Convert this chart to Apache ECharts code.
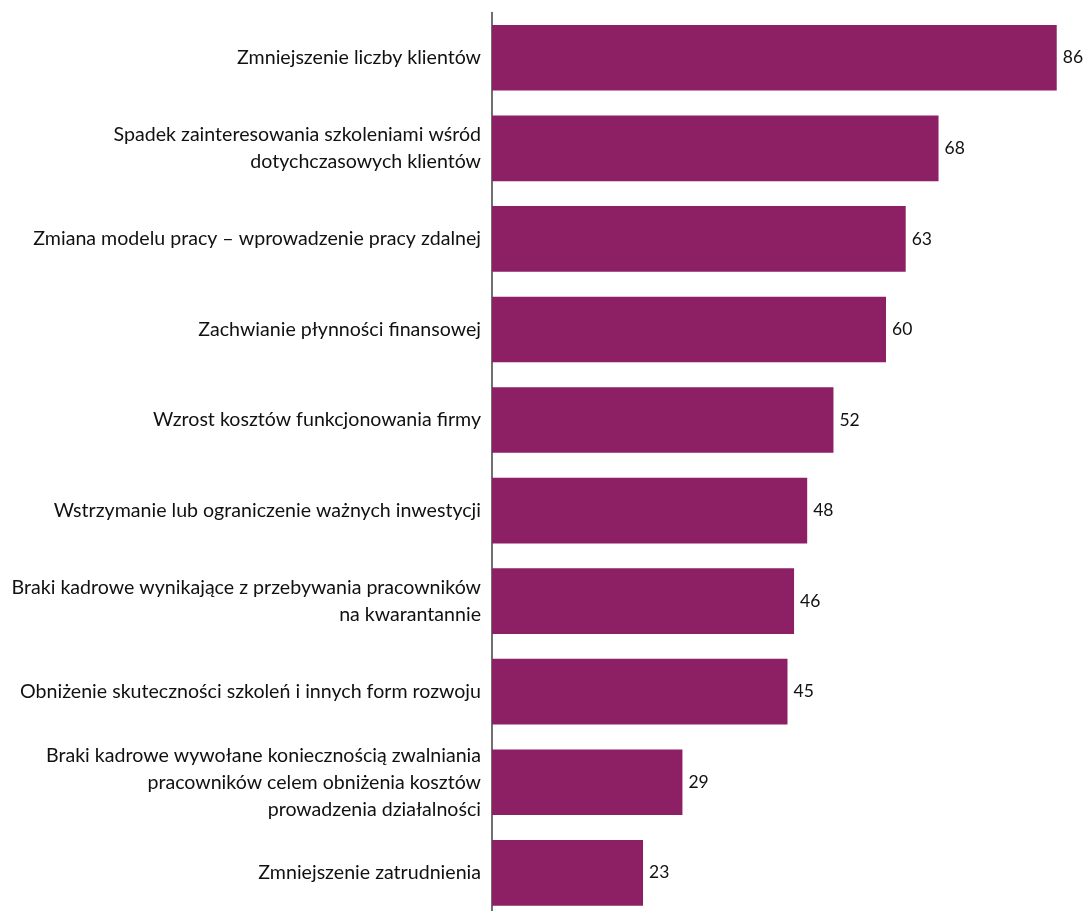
<!DOCTYPE html>
<html>
<head>
<meta charset="utf-8">
<script src="https://cdn.jsdelivr.net/npm/echarts@6/dist/echarts.min.js"></script>
<style>
  html, body { margin: 0; padding: 0; background: #ffffff; }
  #chart { width: 1083px; height: 911px; }
</style>
</head>
<body>
<div id="chart"></div>
<script>
// Problemy wynikające z pandemii – odsetek wskazań
const categories = [
  'Zmniejszenie liczby klientów',
  'Spadek zainteresowania szkoleniami wśród\ndotychczasowych klientów',
  'Zmiana modelu pracy – wprowadzenie pracy zdalnej',
  'Zachwianie płynności finansowej',
  'Wzrost kosztów funkcjonowania firmy',
  'Wstrzymanie lub ograniczenie ważnych inwestycji',
  'Braki kadrowe wynikające z przebywania pracowników\nna kwarantannie',
  'Obniżenie skuteczności szkoleń i innych form rozwoju',
  'Braki kadrowe wywołane koniecznością zwalniania\npracowników celem obniżenia kosztów\nprowadzenia działalności',
  'Zmniejszenie zatrudnienia'
];
const values = [86, 68, 63, 60, 52, 48, 46, 45, 29, 23];

const FONT = 'Lato';
const chart = echarts.init(document.getElementById('chart'), null, { renderer: 'canvas' });

chart.setOption({
  backgroundColor: '#ffffff',
  animation: false,
  grid: {
    left: 492, top: 12.5, width: 591, height: 905.6,
    containLabel: false,
    outerBoundsMode: 'none'
  },
  xAxis: {
    type: 'value',
    min: 0,
    max: 90,
    show: false
  },
  yAxis: {
    type: 'category',
    data: categories,
    inverse: true,
    axisLine: { show: true, lineStyle: { color: '#404040', width: 1.5 } },
    axisTick: { show: false },
    axisLabel: {
      margin: 11,
      fontFamily: FONT,
      fontSize: 19.6,
      color: '#111111',
      lineHeight: 27,
      align: 'right'
    }
  },
  series: [{
    type: 'bar',
    data: values,
    barCategoryGap: '27.5%',
    itemStyle: { color: '#8d1f64' },
    label: {
      show: true,
      position: 'right',
      distance: 6,
      fontFamily: FONT,
      fontSize: 17.5,
      color: '#111111'
    }
  }]
});
</script>
</body>
</html>
